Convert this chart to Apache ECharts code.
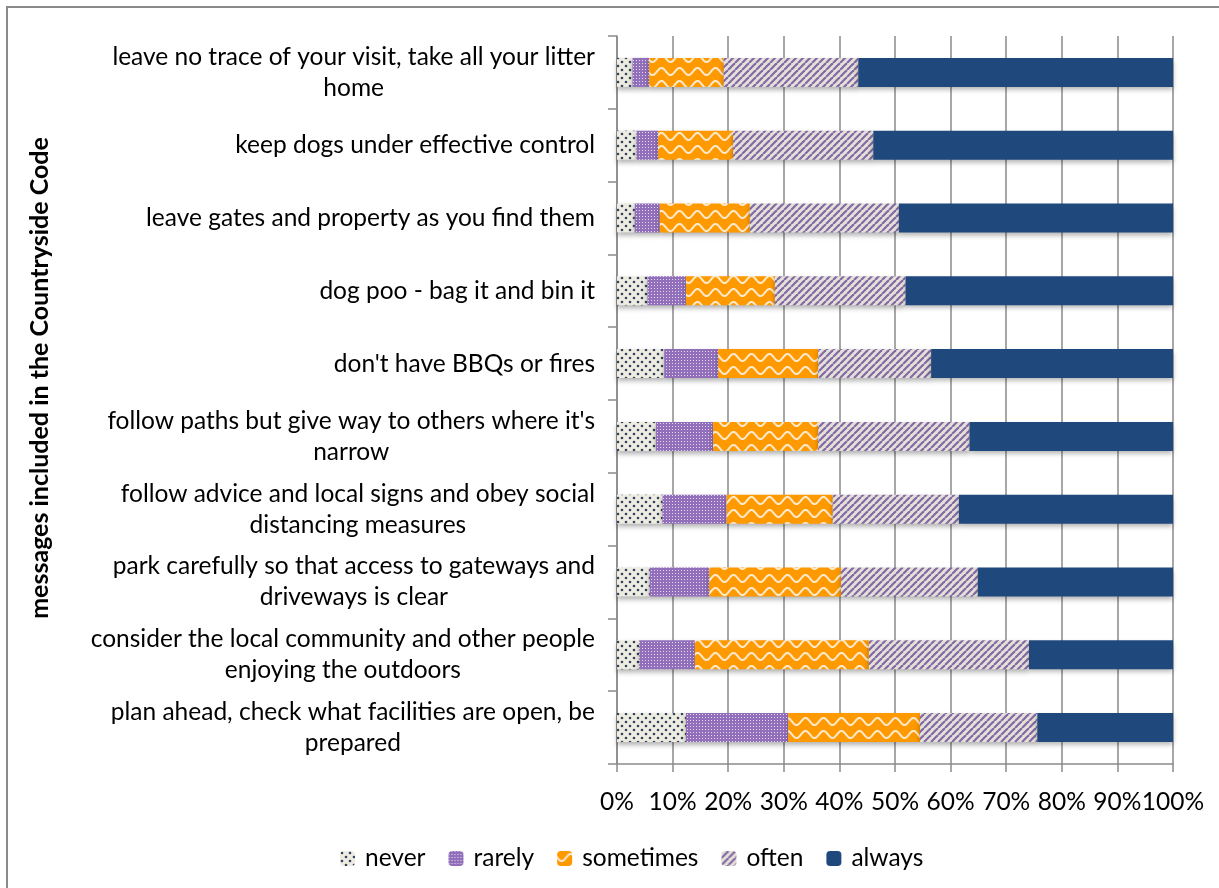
<!DOCTYPE html>
<html>
<head>
<meta charset="utf-8">
<script src="https://cdn.jsdelivr.net/npm/echarts@6/dist/echarts.min.js"></script>
<style>
html,body{margin:0;padding:0;background:#fff;}
#chart{width:1219px;height:888px;}
</style>
</head>
<body>
<div id="chart"></div>
<script>
// ---- data ----
const categories = [
  "leave no trace of your visit, take all your litter\nhome",
  "keep dogs under effective control",
  "leave gates and property as you find them",
  "dog poo - bag it and bin it",
  "don't have BBQs or fires",
  "follow paths but give way to others where it's\nnarrow",
  "follow advice and local signs and obey social\ndistancing measures",
  "park carefully so that access to gateways and\ndriveways is clear",
  "consider the local community and other people\nenjoying the outdoors",
  "plan ahead, check what facilities are open, be\nprepared"
];
const seriesNames = ["never", "rarely", "sometimes", "often", "always"];
const never     = [2.8, 3.5, 3.2, 5.5, 8.5, 7.0, 8.2, 5.9, 4.0, 12.4];
const rarely    = [3.0, 3.9, 4.5, 6.9, 9.7, 10.3, 11.5, 10.7, 10.0, 18.4];
const sometimes = [13.4, 13.5, 16.2, 16.0, 18.0, 18.9, 19.1, 23.7, 31.3, 23.7];
const often     = [24.2, 25.2, 26.8, 23.5, 20.3, 27.2, 22.7, 24.6, 28.8, 21.1];
const always    = [56.6, 53.9, 49.3, 48.1, 43.5, 36.6, 38.5, 35.1, 25.9, 24.4];
const xTickMax = 100;
const xTickStep = 10;
const yAxisTitle = "messages included in the Countryside Code";

// ---- patterns ----
function makePattern(w, h, draw) {
  const c = document.createElement('canvas');
  c.width = w; c.height = h;
  const ctx = c.getContext('2d');
  draw(ctx, w, h);
  return { image: c, repeat: 'repeat' };
}
const patNever = makePattern(8, 8, (ctx, w, h) => {
  ctx.fillStyle = '#eeece1'; ctx.fillRect(0, 0, w, h);
  ctx.fillStyle = '#2f4260';
  [[2, 2], [6, 6]].forEach(p => { ctx.beginPath(); ctx.arc(p[0], p[1], 1.3, 0, Math.PI * 2); ctx.fill(); });
});
const patRarely = makePattern(3, 3, (ctx, w, h) => {
  ctx.fillStyle = '#916fba'; ctx.fillRect(0, 0, w, h);
  ctx.fillStyle = '#e6dbf1';
  ctx.fillRect(0, 0, 1, 1);
});
const patSometimes = makePattern(18, 13, (ctx, w, h) => {
  ctx.fillStyle = '#ff9900'; ctx.fillRect(0, 0, w, h);
  ctx.strokeStyle = '#fde9cc'; ctx.lineWidth = 2;
  ctx.beginPath();
  for (let x = -1; x <= w + 1; x += 0.5) {
    const y = 6.5 + 3.5 * Math.sin(2 * Math.PI * x / w);
    if (x === -1) ctx.moveTo(x, y); else ctx.lineTo(x, y);
  }
  ctx.stroke();
});
const patOften = makePattern(7, 7, (ctx, w, h) => {
  ctx.fillStyle = '#e4e2d8'; ctx.fillRect(0, 0, w, h);
  ctx.strokeStyle = '#8468a6'; ctx.lineWidth = 2.2;
  for (let k = -1; k <= 1; k++) {
    ctx.beginPath(); ctx.moveTo(k * w, h); ctx.lineTo(k * w + w, 0); ctx.stroke();
  }
});
const fills = [patNever, patRarely, patSometimes, patOften, '#1f497d'];
const values = [never, rarely, sometimes, often, always];

const FONT = 'Lato';
const chart = echarts.init(document.getElementById('chart'));
chart.setOption({
  animation: false,
  backgroundColor: '#fff',
  graphic: [
    { type: 'rect', shape: { x: 7, y: 7, width: 1300, height: 1000 },
      style: { fill: 'none', stroke: '#8a8a8a', lineWidth: 2 }, silent: true },
    { type: 'text', x: 40, y: 378, rotation: Math.PI / 2,
      style: { text: yAxisTitle, font: 'bold 25px Lato', fill: '#000',
               textAlign: 'center', textVerticalAlign: 'middle' } }
  ],
  legend: {
    bottom: 12, left: 335,
    itemWidth: 15, itemHeight: 15, itemGap: 23,
    textStyle: { fontFamily: FONT, fontSize: 24.5, color: '#000', padding: [0, 0, 0, 5] },
    data: seriesNames
  },
  grid: { left: 617, right: 46, top: 36, bottom: 124 },
  xAxis: {
    type: 'value', min: 0, max: xTickMax, interval: xTickStep,
    axisLine: { show: true, lineStyle: { color: '#8a8a8a', width: 1.5 } },
    axisTick: { show: true, length: 8, lineStyle: { color: '#8a8a8a', width: 1.5 } },
    splitLine: { show: true, lineStyle: { color: '#8a8a8a', width: 1.5 } },
    axisLabel: { formatter: '{value}%', fontFamily: FONT, fontSize: 24.5, color: '#000', margin: 26 }
  },
  yAxis: {
    type: 'category', inverse: true, data: categories,
    axisLine: { show: true, lineStyle: { color: '#8a8a8a', width: 1.5 } },
    axisTick: { show: true, length: 9, lineStyle: { color: '#8a8a8a', width: 1.5 } },
    axisLabel: {
      margin: 22, align: 'right',
      formatter: v => v.split('\n').map(l => '{c|' + l + '}').join('\n'),
      rich: { c: { align: 'center', fontFamily: FONT, fontSize: 24.5, lineHeight: 31, color: '#000' } }
    }
  },
  series: seriesNames.map((n, i) => ({
    name: n, type: 'bar', stack: 'total', barWidth: 29,
    data: values[i],
    itemStyle: { color: fills[i], shadowColor: 'rgba(0,0,0,0.3)', shadowBlur: 5, shadowOffsetY: 3 }
  }))
});
</script>
</body>
</html>
